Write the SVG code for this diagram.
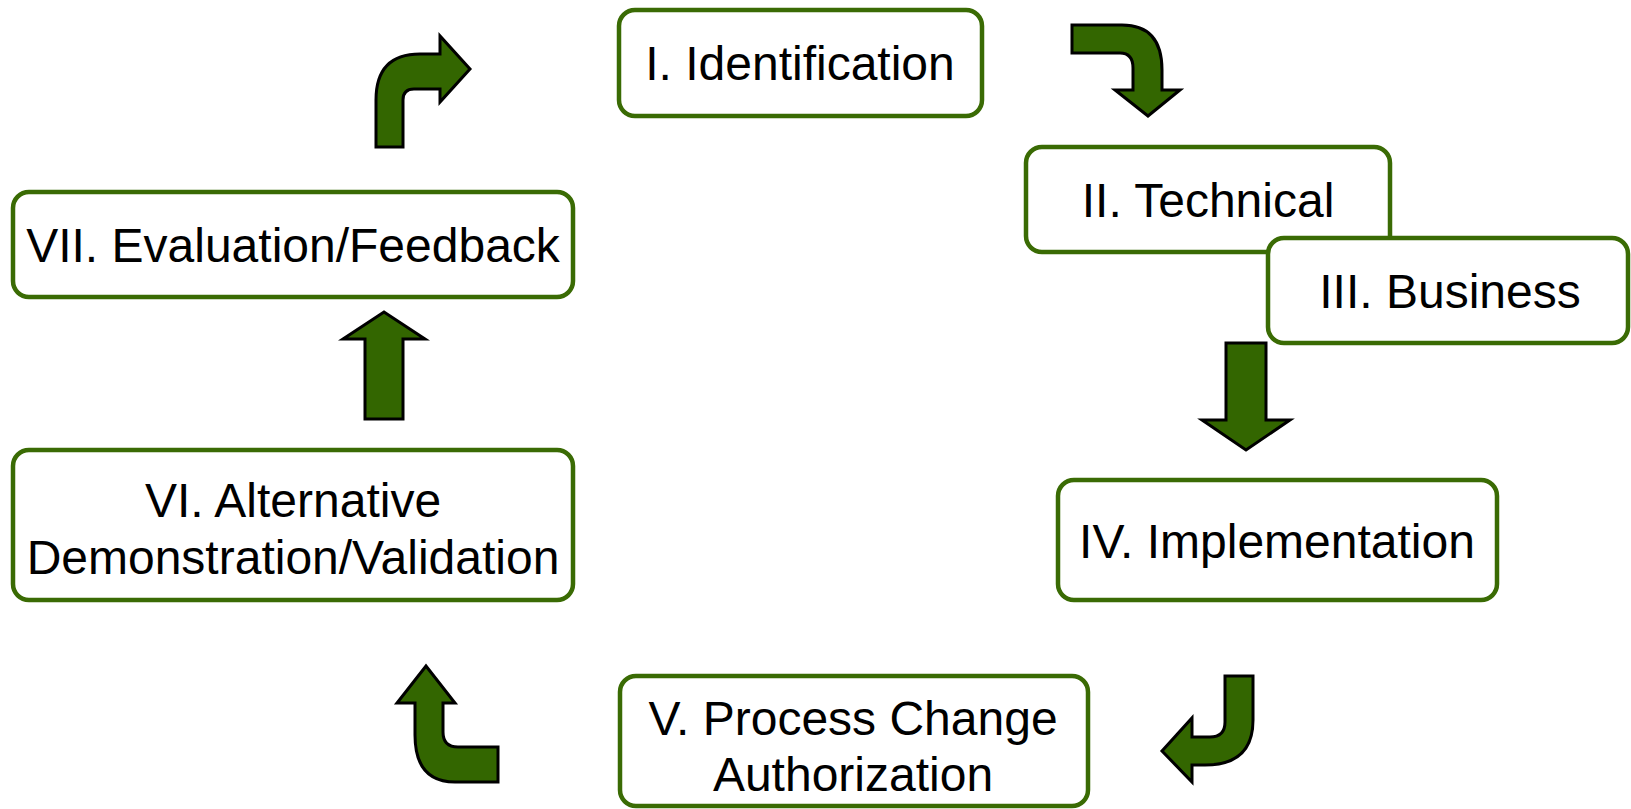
<svg xmlns="http://www.w3.org/2000/svg" width="1631" height="809" viewBox="0 0 1631 809">
<style>
.box{fill:#fff;stroke:#3a6b04;stroke-width:4.5}
.lbl{font-family:"Liberation Sans",Arial,sans-serif;font-size:48px;fill:#000;text-anchor:middle}
.arr{fill:#336600;stroke:#000;stroke-width:3;stroke-linejoin:miter}
</style>
<rect width="1631" height="809" fill="#fff"/>
<g id="n1"><rect class="box" x="619" y="10" width="363" height="106" rx="16"/><text class="lbl" x="800" y="80">I. Identification</text></g>
<g id="n2"><rect class="box" x="1026" y="147" width="364" height="105" rx="16"/><text class="lbl" x="1208" y="217">II. Technical</text></g>
<g id="n3"><rect class="box" x="1268" y="238" width="360" height="105" rx="16"/><text class="lbl" x="1450" y="308">III. Business</text></g>
<g id="n4"><rect class="box" x="1058" y="480" width="439" height="120" rx="16"/><text class="lbl" x="1277" y="558">IV. Implementation</text></g>
<g id="n5"><rect class="box" x="620" y="676" width="468" height="130" rx="16"/><text class="lbl" x="853" y="735">V. Process Change</text><text class="lbl" x="853" y="791">Authorization</text></g>
<g id="n6"><rect class="box" x="13" y="450" width="560" height="150" rx="16"/><text class="lbl" x="293" y="517">VI. Alternative</text><text class="lbl" x="293" y="574">Demonstration/Validation</text></g>
<g id="n7"><rect class="box" x="13" y="192" width="560" height="105" rx="16"/><text class="lbl" x="293" y="262">VII. Evaluation/Feedback</text></g>
<g id="connectors">
<path class="arr" d="M376,147 L376,100 Q376,54 420,54 L440,54 L440,36 L470,69 L440,102 L440,89 L414,89 Q403,89 403,100 L403,147 Z"/>
<path class="arr" d="M1072,25 L1122,25 Q1162,25 1162,70 L1162,90 L1180,90 L1148,116 L1115,90 L1133,90 L1133,68 Q1133,53 1120,53 L1072,53 Z"/>
<path class="arr" d="M1226,343 L1266,343 L1266,420 L1290,420 L1246,450 L1202,420 L1226,420 Z"/>
<path class="arr" d="M1225,676 L1253,676 L1253,720 Q1253,765 1205,765 L1192,765 L1192,782 L1162,751 L1192,718 L1192,737 L1210,737 Q1225,737 1225,722 Z"/>
<path class="arr" d="M498,747 L498,782 L455,782 Q415,782 415,735 L415,703 L397,703 L426,666 L455,703 L443,703 L443,732 Q443,747 458,747 Z"/>
<path class="arr" d="M365,419 L403,419 L403,339 L425,339 L384,312 L343,339 L365,339 Z"/>
</g>
</svg>
